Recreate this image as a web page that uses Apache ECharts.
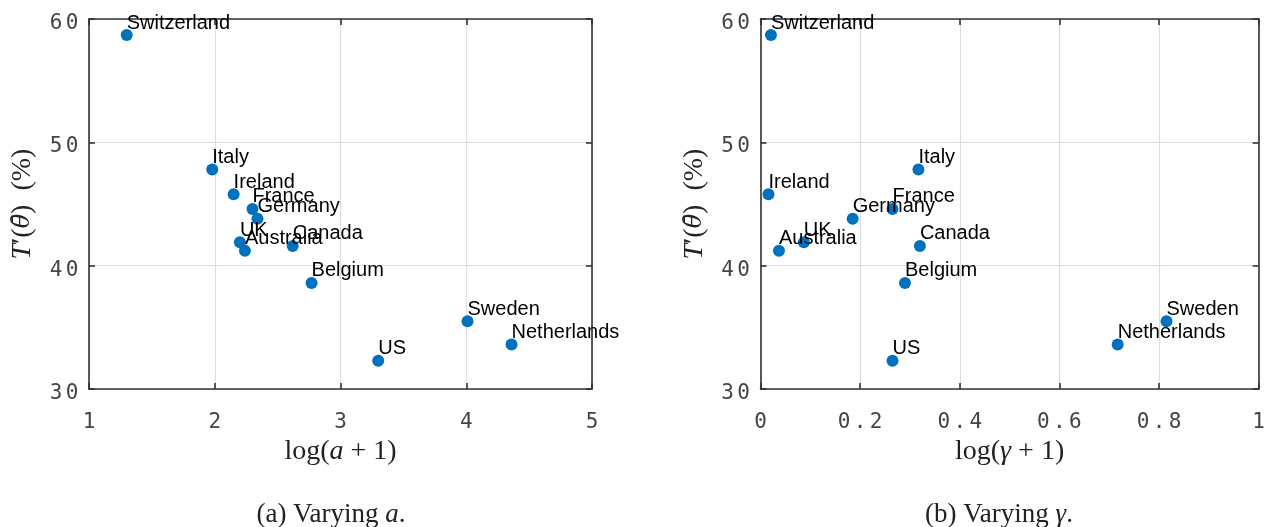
<!DOCTYPE html>
<html><head><meta charset="utf-8">
<script src="https://cdn.jsdelivr.net/npm/echarts@6/dist/echarts.min.js"></script>
<style>html,body{margin:0;padding:0;background:#fff}#c{width:1268px;height:527px}</style>
</head><body><div id="c"></div>
<script>
// ---- data ----
const countries = ['Switzerland','Italy','Ireland','France','Germany','UK','Australia','Canada','Belgium','US','Sweden','Netherlands'];
const tPrime    = [58.7, 47.8, 45.8, 44.6, 43.8, 41.9, 41.2, 41.6, 38.6, 32.3, 35.5, 33.6];
const logA      = [1.30, 1.98, 2.15, 2.30, 2.34, 2.20, 2.24, 2.62, 2.77, 3.30, 4.01, 4.36];
const logGamma  = [0.021, 0.317, 0.016, 0.265, 0.185, 0.087, 0.037, 0.320, 0.290, 0.265, 0.815, 0.717];
const xTicksA   = [1, 2, 3, 4, 5];
const xTicksB   = [0, 0.2, 0.4, 0.6, 0.8, 1];
const yTicks    = [30, 40, 50, 60];
const captionA  = ['(a) Varying ', 'a', '.'];
const captionB  = ['(b) Varying ', 'γ', '.'];

// ---- styling ----
const AX = '#333333';
const serifR = {fontFamily:'Liberation Serif', fontSize:28, color:'#222'};
const serifI = {fontFamily:'Liberation Serif', fontSize:28, fontStyle:'italic', color:'#222'};
const serifT = {fontFamily:'DejaVu Serif', fontSize:24, fontStyle:'italic', color:'#222'};
const tickRich = {c:{width:16, align:'center', fontFamily:'DejaVu Sans Mono', fontSize:21, color:'#444'}};
function spaced(v){ return String(v).split('').map(ch => '{c|' + ch + '}').join(''); }

function axisPair(kind, gi, ticks, nameStr, isY){
  const min = ticks[0], max = ticks[ticks.length-1], interval = ticks[1]-ticks[0];
  const main = {
    gridIndex: gi, type:'value', min, max, interval,
    position: kind === 'x' ? 'bottom' : 'left',
    axisLine:{show:true, onZero:false, lineStyle:{color:AX, width:1.6}},
    axisTick:{show:true, inside:true, length:6, lineStyle:{color:AX, width:1.6}},
    axisLabel: isY
      ? {margin:9, formatter: spaced, rich: tickRich, padding:[9,0,0,0]}
      : {margin:23, formatter: spaced, rich: tickRich},
    splitLine:{show:true, lineStyle:{color:'#dedede', width:1.2}},
    name: nameStr, nameLocation:'middle',
    nameGap: isY ? 52 : 49,
    nameRotate: isY ? 90 : 0,
    nameTextStyle:{rich:{r:serifR, i:serifI, t:serifT}}
  };
  const second = {
    gridIndex: gi, type:'value', min, max, interval,
    position: kind === 'x' ? 'top' : 'right',
    axisLine:{show:true, onZero:false, lineStyle:{color:AX, width:1.6}},
    axisTick:{show:true, inside:true, length:6, lineStyle:{color:AX, width:1.6}},
    axisLabel:{show:false}, splitLine:{show:false}
  };
  return [main, second];
}

const yName = '{i|T}{r|′(}{t|θ̄}{r|)  (%)}';
const labelCfg = {
  show:true, formatter: p => p.data[2], position:[6,-6], align:'left', verticalAlign:'middle',
  fontFamily:'Liberation Sans', fontSize:20, color:'#000'
};
const capRich = {r:{fontFamily:'Liberation Serif', fontSize:27, fill:'#222'}, i:{fontFamily:'Liberation Serif', fontSize:27, fontStyle:'italic', fill:'#222'}};

const chart = echarts.init(document.getElementById('c'));
chart.setOption({
  animation:false,
  backgroundColor:'#fff',
  grid:[
    {left:89, top:19, width:503, height:370},
    {left:760.5, top:19, width:502, height:370}
  ],
  xAxis:[
    ...axisPair('x', 0, xTicksA, '{r|log(}{i|a}{r| + 1)}', false),
    ...axisPair('x', 1, xTicksB, '{r|log(}{i|γ}{r| + 1)}', false)
  ],
  yAxis:[
    ...axisPair('y', 0, yTicks, yName, true),
    ...axisPair('y', 1, yTicks, yName, true)
  ],
  series:[
    {type:'scatter', xAxisIndex:0, yAxisIndex:0, symbolSize:12, itemStyle:{color:'#0072BD', opacity:1},
     data: logA.map((x,i) => [x, tPrime[i], countries[i]]), label: labelCfg},
    {type:'scatter', xAxisIndex:2, yAxisIndex:2, symbolSize:12, itemStyle:{color:'#0072BD', opacity:1},
     data: logGamma.map((x,i) => [x, tPrime[i], countries[i]]), label: labelCfg}
  ],
  graphic:[
    {type:'text', x:331, y:515, style:{
      text:'{r|' + captionA[0] + '}{i|' + captionA[1] + '}{r|' + captionA[2] + '}',
      rich:capRich, align:'center', verticalAlign:'middle'}},
    {type:'text', x:999, y:515, style:{
      text:'{r|' + captionB[0] + '}{i|' + captionB[1] + '}{r|' + captionB[2] + '}',
      rich:capRich, align:'center', verticalAlign:'middle'}}
  ]
});
</script></body></html>
